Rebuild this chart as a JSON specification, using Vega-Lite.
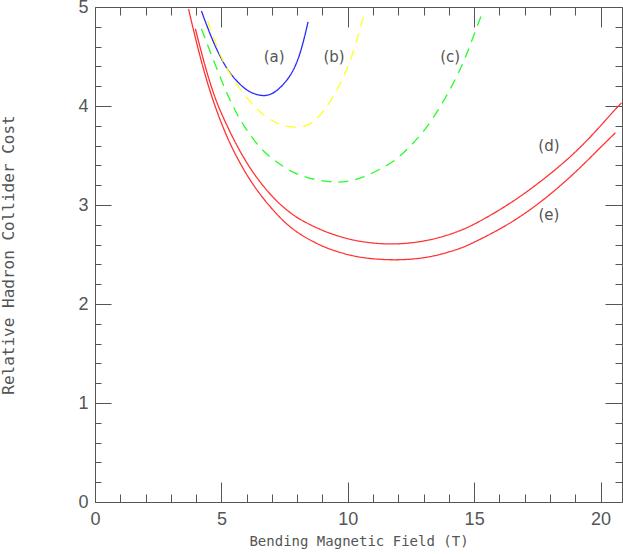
{
  "$schema": "https://vega.github.io/schema/vega-lite/v6.json",
  "autosize": "none",
  "width": 527,
  "height": 495,
  "padding": {"left": 95, "top": 7, "right": 1, "bottom": 52},
  "background": "white",
  "config": {
    "view": {"stroke": null},
    "axis": {
      "grid": false,
      "domainColor": "#555555",
      "tickColor": "#555555",
      "labelColor": "#555555",
      "titleColor": "#555555",
      "domainWidth": 1,
      "tickWidth": 1,
      "labelFont": "Liberation Sans",
      "labelFontSize": 18,
      "titleFont": "DejaVu Sans Mono",
      "titleFontWeight": "normal",
      "labelOverlap": false,
      "labelFlush": false
    }
  },
  "datasets": {
    "curves": [
      {"series": "a", "x": 4.21, "y": 4.96},
      {"series": "a", "x": 4.57, "y": 4.71},
      {"series": "a", "x": 4.96, "y": 4.49},
      {"series": "a", "x": 5.35, "y": 4.32},
      {"series": "a", "x": 5.88, "y": 4.18},
      {"series": "a", "x": 6.2, "y": 4.13},
      {"series": "a", "x": 6.61, "y": 4.10},
      {"series": "a", "x": 6.9, "y": 4.11},
      {"series": "a", "x": 7.2, "y": 4.15},
      {"series": "a", "x": 7.73, "y": 4.29},
      {"series": "a", "x": 8.12, "y": 4.51},
      {"series": "a", "x": 8.43, "y": 4.85},
      {"series": "b", "x": 4.45, "y": 4.86},
      {"series": "b", "x": 4.85, "y": 4.58},
      {"series": "b", "x": 5.22, "y": 4.36},
      {"series": "b", "x": 6.01, "y": 4.07},
      {"series": "b", "x": 6.67, "y": 3.90},
      {"series": "b", "x": 7.33, "y": 3.80},
      {"series": "b", "x": 7.99, "y": 3.78},
      {"series": "b", "x": 8.4, "y": 3.80},
      {"series": "b", "x": 8.78, "y": 3.86},
      {"series": "b", "x": 9.31, "y": 4.04},
      {"series": "b", "x": 9.71, "y": 4.22},
      {"series": "b", "x": 10.19, "y": 4.50},
      {"series": "b", "x": 10.62, "y": 4.90},
      {"series": "c", "x": 4.21, "y": 4.78},
      {"series": "c", "x": 4.6, "y": 4.52},
      {"series": "c", "x": 5.09, "y": 4.20},
      {"series": "c", "x": 5.5, "y": 3.97},
      {"series": "c", "x": 5.95, "y": 3.77},
      {"series": "c", "x": 6.54, "y": 3.57},
      {"series": "c", "x": 7.0, "y": 3.47},
      {"series": "c", "x": 7.33, "y": 3.41},
      {"series": "c", "x": 7.73, "y": 3.34},
      {"series": "c", "x": 8.39, "y": 3.27},
      {"series": "c", "x": 9.31, "y": 3.23},
      {"series": "c", "x": 9.97, "y": 3.23},
      {"series": "c", "x": 10.63, "y": 3.28},
      {"series": "c", "x": 11.29, "y": 3.36},
      {"series": "c", "x": 11.95, "y": 3.46},
      {"series": "c", "x": 12.54, "y": 3.61},
      {"series": "c", "x": 13.14, "y": 3.78},
      {"series": "c", "x": 13.93, "y": 4.10},
      {"series": "c", "x": 14.59, "y": 4.44},
      {"series": "c", "x": 14.98, "y": 4.71},
      {"series": "c", "x": 15.35, "y": 4.96},
      {"series": "d", "x": 3.97, "y": 4.78},
      {"series": "d", "x": 4.35, "y": 4.40},
      {"series": "d", "x": 4.75, "y": 4.07},
      {"series": "d", "x": 5.13, "y": 3.85},
      {"series": "d", "x": 5.6, "y": 3.60},
      {"series": "d", "x": 6.2, "y": 3.34},
      {"series": "d", "x": 6.81, "y": 3.14},
      {"series": "d", "x": 7.3, "y": 3.01},
      {"series": "d", "x": 7.73, "y": 2.92},
      {"series": "d", "x": 8.12, "y": 2.85},
      {"series": "d", "x": 8.92, "y": 2.75},
      {"series": "d", "x": 9.44, "y": 2.70},
      {"series": "d", "x": 10.1, "y": 2.65},
      {"series": "d", "x": 10.76, "y": 2.62},
      {"series": "d", "x": 11.69, "y": 2.60},
      {"series": "d", "x": 12.74, "y": 2.62},
      {"series": "d", "x": 13.66, "y": 2.67},
      {"series": "d", "x": 14.46, "y": 2.74},
      {"series": "d", "x": 14.98, "y": 2.80},
      {"series": "d", "x": 16.3, "y": 2.99},
      {"series": "d", "x": 17.62, "y": 3.23},
      {"series": "d", "x": 18.94, "y": 3.51},
      {"series": "d", "x": 19.87, "y": 3.76},
      {"series": "d", "x": 20.59, "y": 3.97},
      {"series": "d", "x": 20.83, "y": 4.03},
      {"series": "e", "x": 3.70, "y": 4.98},
      {"series": "e", "x": 4.05, "y": 4.60},
      {"series": "e", "x": 4.45, "y": 4.22},
      {"series": "e", "x": 4.92, "y": 3.87},
      {"series": "e", "x": 5.40, "y": 3.58},
      {"series": "e", "x": 6.0, "y": 3.30},
      {"series": "e", "x": 6.54, "y": 3.10},
      {"series": "e", "x": 7.1, "y": 2.93},
      {"series": "e", "x": 7.6, "y": 2.80},
      {"series": "e", "x": 8.12, "y": 2.70},
      {"series": "e", "x": 8.92, "y": 2.59},
      {"series": "e", "x": 9.44, "y": 2.54},
      {"series": "e", "x": 10.1, "y": 2.49},
      {"series": "e", "x": 10.76, "y": 2.46},
      {"series": "e", "x": 11.82, "y": 2.44},
      {"series": "e", "x": 13.0, "y": 2.46},
      {"series": "e", "x": 13.8, "y": 2.51},
      {"series": "e", "x": 14.46, "y": 2.56},
      {"series": "e", "x": 14.98, "y": 2.62},
      {"series": "e", "x": 16.3, "y": 2.79},
      {"series": "e", "x": 17.62, "y": 3.02},
      {"series": "e", "x": 18.94, "y": 3.31},
      {"series": "e", "x": 19.87, "y": 3.55},
      {"series": "e", "x": 20.59, "y": 3.73}
    ],
    "labels": [
      {"label": "(a)", "x": 7.09, "y": 4.49},
      {"label": "(b)", "x": 9.46, "y": 4.49},
      {"label": "(c)", "x": 14.05, "y": 4.49},
      {"label": "(d)", "x": 17.96, "y": 3.6},
      {"label": "(e)", "x": 17.96, "y": 2.9}
    ]
  },
  "layer": [
    {
      "data": {"name": "curves"},
      "mark": {"type": "line", "strokeWidth": 1.3, "interpolate": "basis", "clip": true},
      "encoding": {
        "x": {
          "field": "x", "type": "quantitative",
          "scale": {"domain": [0, 20.85], "nice": false, "zero": false},
          "axis": {
            "orient": "bottom",
            "values": [0,1,2,3,4,5,6,7,8,9,10,11,12,13,14,15,16,17,18,19,20],
            "tickSize": {"condition": {"test": "datum.value % 5 === 0", "value": -20}, "value": -8},
            "labelExpr": "datum.value % 5 === 0 ? datum.label : ''",
            "labelPadding": 28,
            "title": "Bending Magnetic Field (T)",
            "titleFontSize": 14,
            "titlePadding": -6
          }
        },
        "y": {
          "field": "y", "type": "quantitative",
          "scale": {"domain": [0, 5], "nice": false, "zero": false},
          "axis": {
            "orient": "left",
            "values": [0,0.2,0.4,0.6,0.8,1,1.2,1.4,1.6,1.8,2,2.2,2.4,2.6,2.8,3,3.2,3.4,3.6,3.8,4,4.2,4.4,4.6,4.8,5],
            "tickSize": {"condition": {"test": "datum.value % 1 === 0", "value": -16}, "value": -6},
            "labelExpr": "datum.value % 1 === 0 ? format(datum.value, 'd') : ''",
            "labelPadding": 23,
            "title": "Relative Hadron Collider Cost",
            "titleFontSize": 16,
            "titlePadding": 61
          }
        },
        "color": {
          "field": "series", "type": "nominal", "legend": null,
          "scale": {"domain": ["a","b","c","d","e"], "range": ["#2a2aff", "#ffff22", "#22ff22", "#ff3333", "#ff3333"]}
        },
        "strokeDash": {
          "field": "series", "type": "nominal", "legend": null,
          "scale": {"domain": ["a","b","c","d","e"], "range": [[1,0],[10,7],[10,7],[1,0],[1,0]]}
        }
      }
    },
    {
      "data": {"name": "labels"},
      "mark": {"type": "text", "font": "DejaVu Sans", "fontSize": 15, "color": "#555555", "align": "center", "baseline": "middle"},
      "encoding": {
        "x": {
          "field": "x", "type": "quantitative",
          "axis": {
            "orient": "top",
            "values": [0,1,2,3,4,5,6,7,8,9,10,11,12,13,14,15,16,17,18,19,20],
            "tickSize": {"condition": {"test": "datum.value % 5 === 0", "value": -20}, "value": -8},
            "labels": false,
            "title": null
          }
        },
        "y": {
          "field": "y", "type": "quantitative",
          "axis": {
            "orient": "right",
            "values": [0,0.2,0.4,0.6,0.8,1,1.2,1.4,1.6,1.8,2,2.2,2.4,2.6,2.8,3,3.2,3.4,3.6,3.8,4,4.2,4.4,4.6,4.8,5],
            "tickSize": {"condition": {"test": "datum.value % 1 === 0", "value": -17}, "value": -7},
            "labels": false,
            "title": null
          }
        },
        "text": {"field": "label", "type": "nominal"}
      }
    }
  ],
  "resolve": {"axis": {"x": "independent", "y": "independent"}}
}
